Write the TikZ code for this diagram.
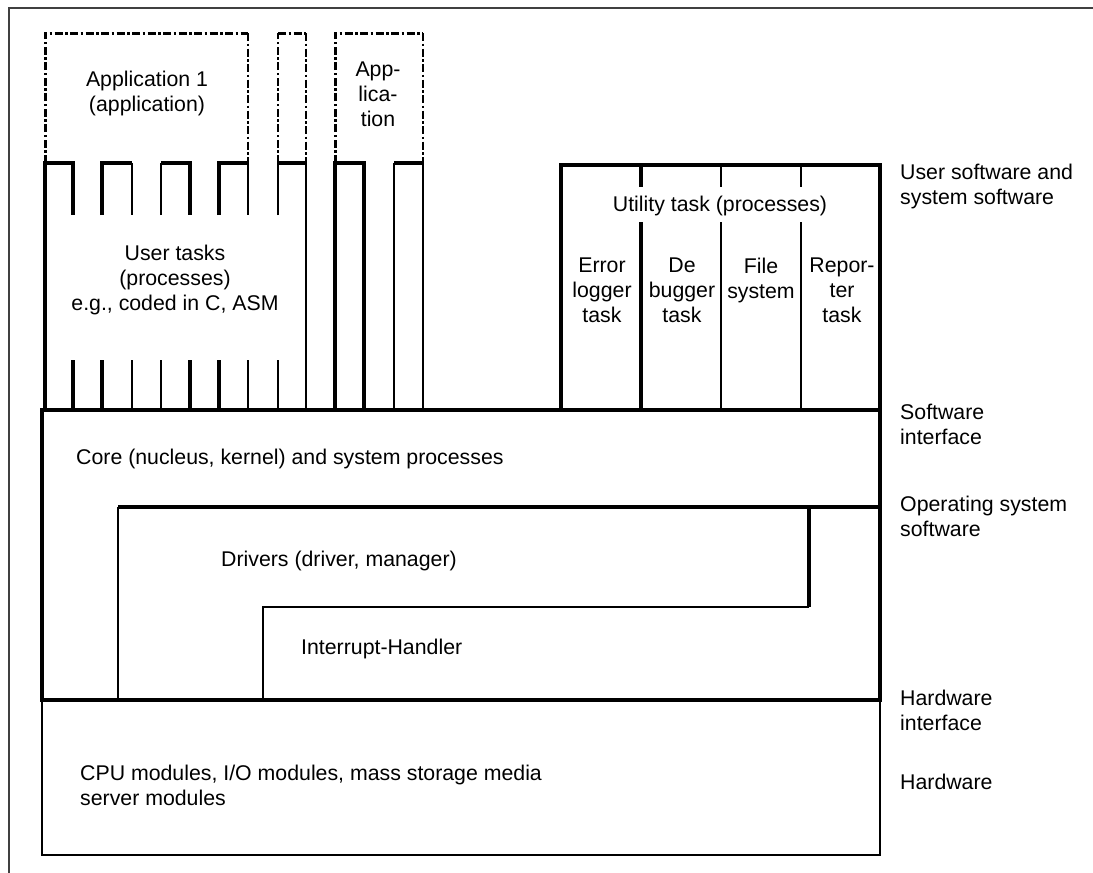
\documentclass[tikz,border=0pt]{standalone}
\usepackage{fontspec}
\setmainfont{Liberation Sans}
\begin{document}
\begin{tikzpicture}[x=1pt,y=-1pt,
  every node/.style={inner sep=0pt, font=\fontsize{21.3}{25}\selectfont},
  thickline/.style={line width=3.2pt},
  midline/.style={line width=2.4pt},
  thinline/.style={line width=1.6pt},
  appedge/.style={dash pattern=on 8pt off 2.5pt on 2.5pt off 2.5pt},
  lbl/.style={align=center},
  side/.style={align=left, anchor=west},
]
\useasboundingbox (0,0) rectangle (1093,873);

% outer frame (top and left only)
\draw[line width=2pt, black!75] (9,873) -- (9,8) -- (1093,8);

% application boxes (dash-dotted)
\draw[line width=3pt, appedge] (45,163) -- (45,33) -- (248,33);
\draw[line width=2pt, appedge] (248,33) -- (248,163);
\draw[line width=2pt, appedge] (278,163) -- (278,33);
\draw[line width=3pt, appedge] (278,33) -- (306,33);
\draw[line width=2pt, appedge] (306,33) -- (306,163);
\draw[line width=3pt, appedge] (335,163) -- (335,33) -- (423,33);
\draw[line width=2pt, appedge] (423,33) -- (423,163);

% user task comb, upper teeth
\draw[thickline] (45,410) -- (45,163) -- (73,163) -- (73,215);
\draw[thickline] (102,215) -- (102,163) -- (132,163);
\draw[thinline] (132,163) -- (132,215);
\draw[thinline] (161,215) -- (161,163);
\draw[thickline] (161,163) -- (190,163) -- (190,215);
\draw[thickline] (219,215) -- (219,163) -- (248,163);
\draw[thinline] (248,163) -- (248,215);
\draw[thinline] (278,215) -- (278,163);
\draw[thickline] (278,163) -- (306,163);
\draw[midline] (306,163) -- (306,410);
\draw[thickline] (335,410) -- (335,163) -- (364,163) -- (364,410);
\draw[thinline] (394,410) -- (394,163);
\draw[thickline] (394,163) -- (423,163);
\draw[thinline] (423,163) -- (423,410);

% user task comb, lower teeth
\foreach \x/\w in {73/3.2,102/3.2,132/1.6,161/1.6,190/3.2,219/3.2,248/1.6,278/1.6}
  \draw[line width=\w pt] (\x,360) -- (\x,410);

% utility task block
\draw[thickline] (561,410) -- (561,165) -- (880,165) -- (880,410);
\draw[thickline] (641,165) -- (641,187) (641,222) -- (641,410);
\draw[thinline] (721,165) -- (721,187) (721,222) -- (721,410);
\draw[thinline] (801,165) -- (801,187) (801,222) -- (801,410);

% hardware block
\draw[line width=2pt] (42,700) rectangle (880,855);

% core block with driver and interrupt layers
\draw[thickline] (42,410) rectangle (880,700);
\draw[thickline] (118,507) -- (880,507);
\draw[line width=2pt] (118,507) -- (118,700);
\draw[thickline] (809,507) -- (809,607);
\draw[line width=2pt] (809,607) -- (263,607) -- (263,700);

% labels inside the blocks
\node[lbl] (app1) at (147,93) {Application 1\\(application)};
\node[lbl] (app2) at (378,94) {App-\\lica-\\tion};
\node[lbl] (user) at (175,280) {User tasks\\(processes)\\e.g., coded in C, ASM};
\node[lbl] (util) at (720,206) {Utility task (processes)};
\node[lbl] (errlog) at (602,290) {Error\\logger\\task};
\node[lbl] (debug) at (682,290) {De\\bugger\\task};
\node[lbl] (filesys) at (761,280) {File\\system};
\node[lbl] (report) at (842,290) {Repor-\\ter\\task};
\node[side] (core) at (76,459) {Core (nucleus, kernel) and system processes};
\node[side] (drivers) at (221,561) {Drivers (driver, manager)};
\node[side] (irq) at (301,649) {Interrupt-Handler};
\node[side] (cpu) at (80,785) {CPU modules, I/O modules, mass storage media\\server modules};

% layer names on the right
\node[side] (usersw) at (900,186) {User software and\\system software};
\node[side] (swif) at (900,424) {Software\\interface};
\node[side] (ossw) at (900,516) {Operating system\\software};
\node[side] (hwif) at (900,710) {Hardware\\interface};
\node[side] (hw) at (900,782) {Hardware};
\end{tikzpicture}
\end{document}
